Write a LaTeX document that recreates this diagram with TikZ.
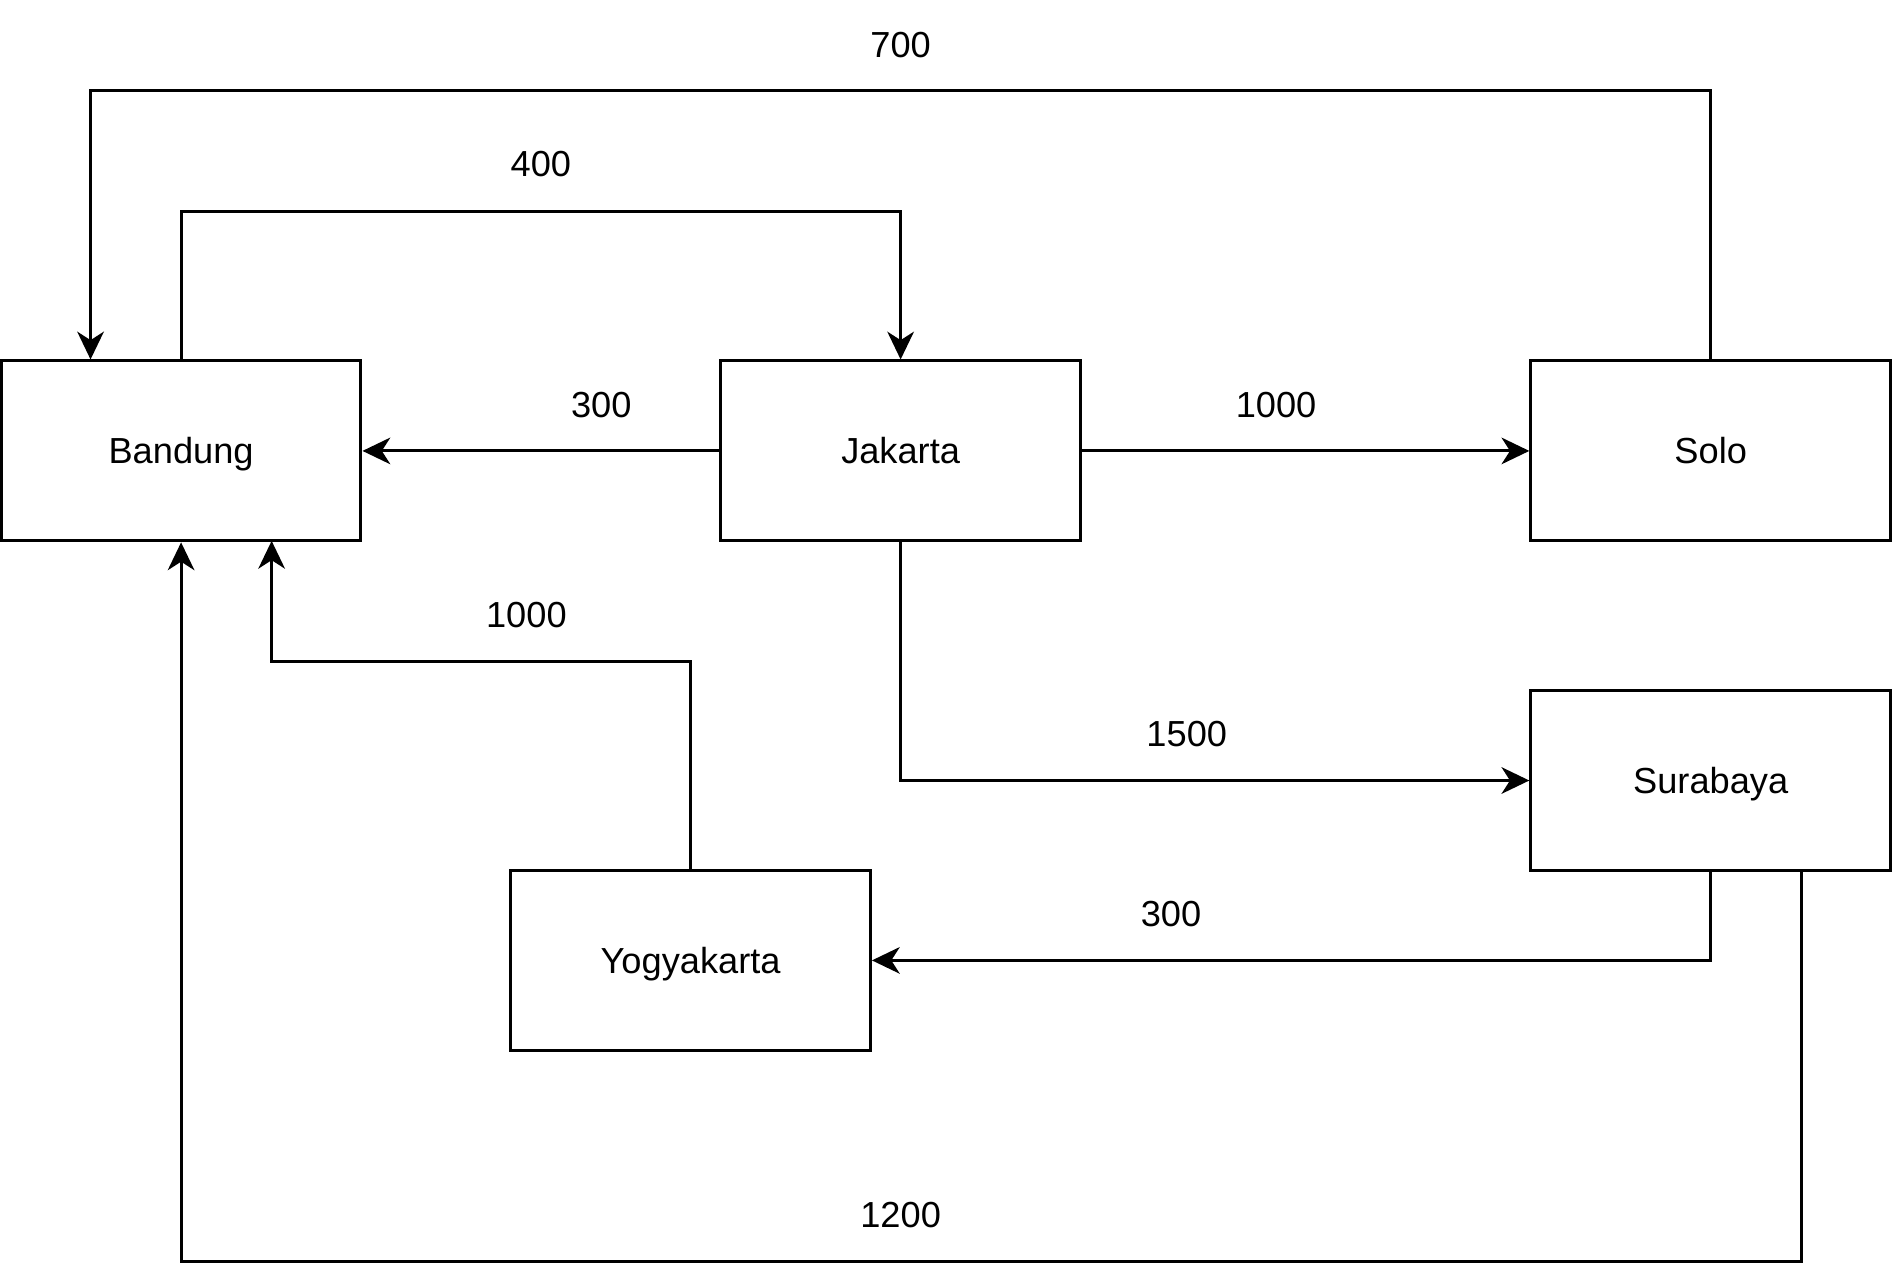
\documentclass[tikz,border=0pt]{standalone}
\usepackage{fontspec}
\setmainfont{Liberation Sans}
\usetikzlibrary{arrows.meta}
\begin{document}
\begin{tikzpicture}[x=1pt,y=-1pt,
  city/.style={draw, line width=2.5pt, minimum width=298pt, minimum height=149pt, inner sep=0pt, text height=24pt, text depth=3pt, font=\fontsize{30}{36}\selectfont},
  conn/.style={line width=2.5pt, -{Stealth[length=23pt,width=22pt,inset=7pt]}},
  lbl/.style={font=\fontsize{30}{36}\selectfont, inner sep=0pt, text height=24pt, text depth=3pt}]
\useasboundingbox (0,0) rectangle (1568,1066);
\node[city] (ban) at (150,373.5) {Bandung};
\node[city] (jak) at (746,373.5) {Jakarta};
\node[city] (sol) at (1417,373.5) {Solo};
\node[city] (sur) at (1417,646.5) {Surabaya};
\node[city] (yog) at (572,795.5) {Yogyakarta};
% Solo -> Bandung (700)
\draw[conn] (sol.north) |- (75,75) -- (ban.north west -| 75,0);
\node[lbl] (l700) at (746,37) {700};
% Bandung -> Jakarta (400)
\draw[conn] (ban.north) |- (746,175) -- (jak.north);
\node[lbl] (l400) at (448,136) {400};
% Jakarta -> Bandung (300)
\draw[conn] (jak.west) -- (ban.east);
\node[lbl] (l300a) at (498,335) {300};
% Jakarta -> Solo (1000)
\draw[conn] (jak.east) -- (sol.west);
\node[lbl] (l1000a) at (1057,335) {1000};
% Jakarta -> Surabaya (1500)
\draw[conn] (jak.south) |- (sur.west);
\node[lbl] (l1500) at (983,608) {1500};
% Yogyakarta -> Bandung (1000)
\coordinate (bb2) at (225,448);
\draw[conn] (yog.north) |- (225,548) -- (bb2);
\node[lbl] (l1000b) at (436,509) {1000};
% Surabaya -> Yogyakarta (300)
\draw[conn] (sur.south) |- (yog.east);
\node[lbl] (l300b) at (970,757) {300};
% Surabaya -> Bandung (1200)
\coordinate (sb2) at (1492,721);
\draw[conn] (sb2) |- (150,1045) -- (ban.south);
\node[lbl] (l1200) at (746,1006) {1200};
\end{tikzpicture}
\end{document}
